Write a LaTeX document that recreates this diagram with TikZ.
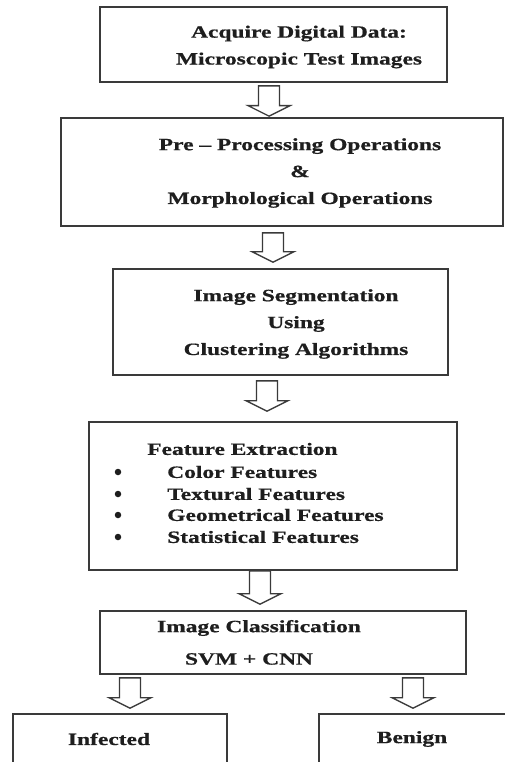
\documentclass[tikz,border=0pt]{standalone}
\usepackage{fontspec}
\setmainfont{Liberation Serif}[BoldFeatures={FakeBold=0.6}]
\usetikzlibrary{calc}
\definecolor{boxline}{HTML}{3A3A3A}
\definecolor{txtcol}{HTML}{1E1E1E}
\tikzset{
  stagebox/.style={draw=boxline, line width=1.7bp, inner sep=0pt, fill=none},
  stagetext/.style={font=\fontsize{17.3}{27}\selectfont\bfseries, text=txtcol, align=center, xscale=1.36, inner sep=0pt},
  bulletdot/.style={circle, fill=txtcol, inner sep=0pt, minimum size=6.5bp},
  barrow/.style={draw=boxline, line width=1.3bp, fill=white, line join=miter},
}
\newcommand\blockarrow[2]{%
  \draw[barrow] let \p1=(#1), \p2=(#2) in
    (\x2-10.5bp,\y1) -- (\x2-10.5bp,\y2+10.5bp) -- (\x2-21bp,\y2+10.5bp) -- (\x2,\y2)
    -- (\x2+21bp,\y2+10.5bp) -- (\x2+10.5bp,\y2+10.5bp) -- (\x2+10.5bp,\y1) -- cycle;}
\begin{document}
\begin{tikzpicture}[x=1bp,y=-1bp]
\useasboundingbox (0,0) rectangle (505,762);
\clip (0,0) rectangle (505,762);
\fill[white] (0,0) rectangle (505,762);

% boxes
\node[stagebox, minimum width=347bp, minimum height=75bp] (b1) at (273.5,44.5) {};
\node[stagebox, minimum width=442bp, minimum height=108bp] (b2) at (282,172) {};
\node[stagebox, minimum width=335bp, minimum height=106bp] (b3) at (280.5,322) {};
\node[stagebox, minimum width=368bp, minimum height=148bp] (b4) at (273,496) {};
\node[stagebox, minimum width=366bp, minimum height=63bp] (b5) at (283,642.5) {};
\node[stagebox, minimum width=214bp, minimum height=90bp] (b6) at (120,759) {};
\node[stagebox, minimum width=201bp, minimum height=90bp] (b7) at (419.5,759) {};

% texts
\node[stagetext] (t1) at (299,47) {Acquire Digital Data:\\Microscopic Test Images};
\node[stagetext] (t2) at (300,173) {Pre -- Processing Operations\\\&\\Morphological Operations};
\node[stagetext] (t3) at (296,324) {Image Segmentation\\Using\\Clustering Algorithms};
\node[stagetext, anchor=west] (t4) at (147,449) {Feature Extraction};
\node[bulletdot] (d1) at (118,472) {};
\node[bulletdot] (d2) at (118,494) {};
\node[bulletdot] (d3) at (118,515) {};
\node[bulletdot] (d4) at (118,537) {};
\node[stagetext, anchor=west] (f1) at (167,472) {Color Features};
\node[stagetext, anchor=west] (f2) at (167,494) {Textural Features};
\node[stagetext, anchor=west] (f3) at (167,515) {Geometrical Features};
\node[stagetext, anchor=west] (f4) at (167,537) {Statistical Features};
\node[stagetext] (t5a) at (259,628) {Image Classification};
\node[stagetext] (t5b) at (249,659) {SVM + CNN};
\node[stagetext] (t6) at (109,739) {Infected};
\node[stagetext] (t7) at (412,739) {Benign};

% block arrows
\blockarrow{$(b1.south)+(-4.5,3)$}{$(b2.north)+(-13,-1)$}
\blockarrow{$(b2.south)+(-9,6)$}{$(b3.north)+(-7.5,-6)$}
\blockarrow{$(b3.south)+(-13.5,5)$}{$(b4.north)+(-6,-10)$}
\blockarrow{$(b4.south)+(-14,0)$}{$(b5.north)+(-23,-6)$}
\blockarrow{$(b5.south)+(-153,3)$}{$(b6.north)+(10,-5)$}
\blockarrow{$(b5.south)+(130,3)$}{$(b7.north)+(-6.5,-5)$}
\end{tikzpicture}
\end{document}
